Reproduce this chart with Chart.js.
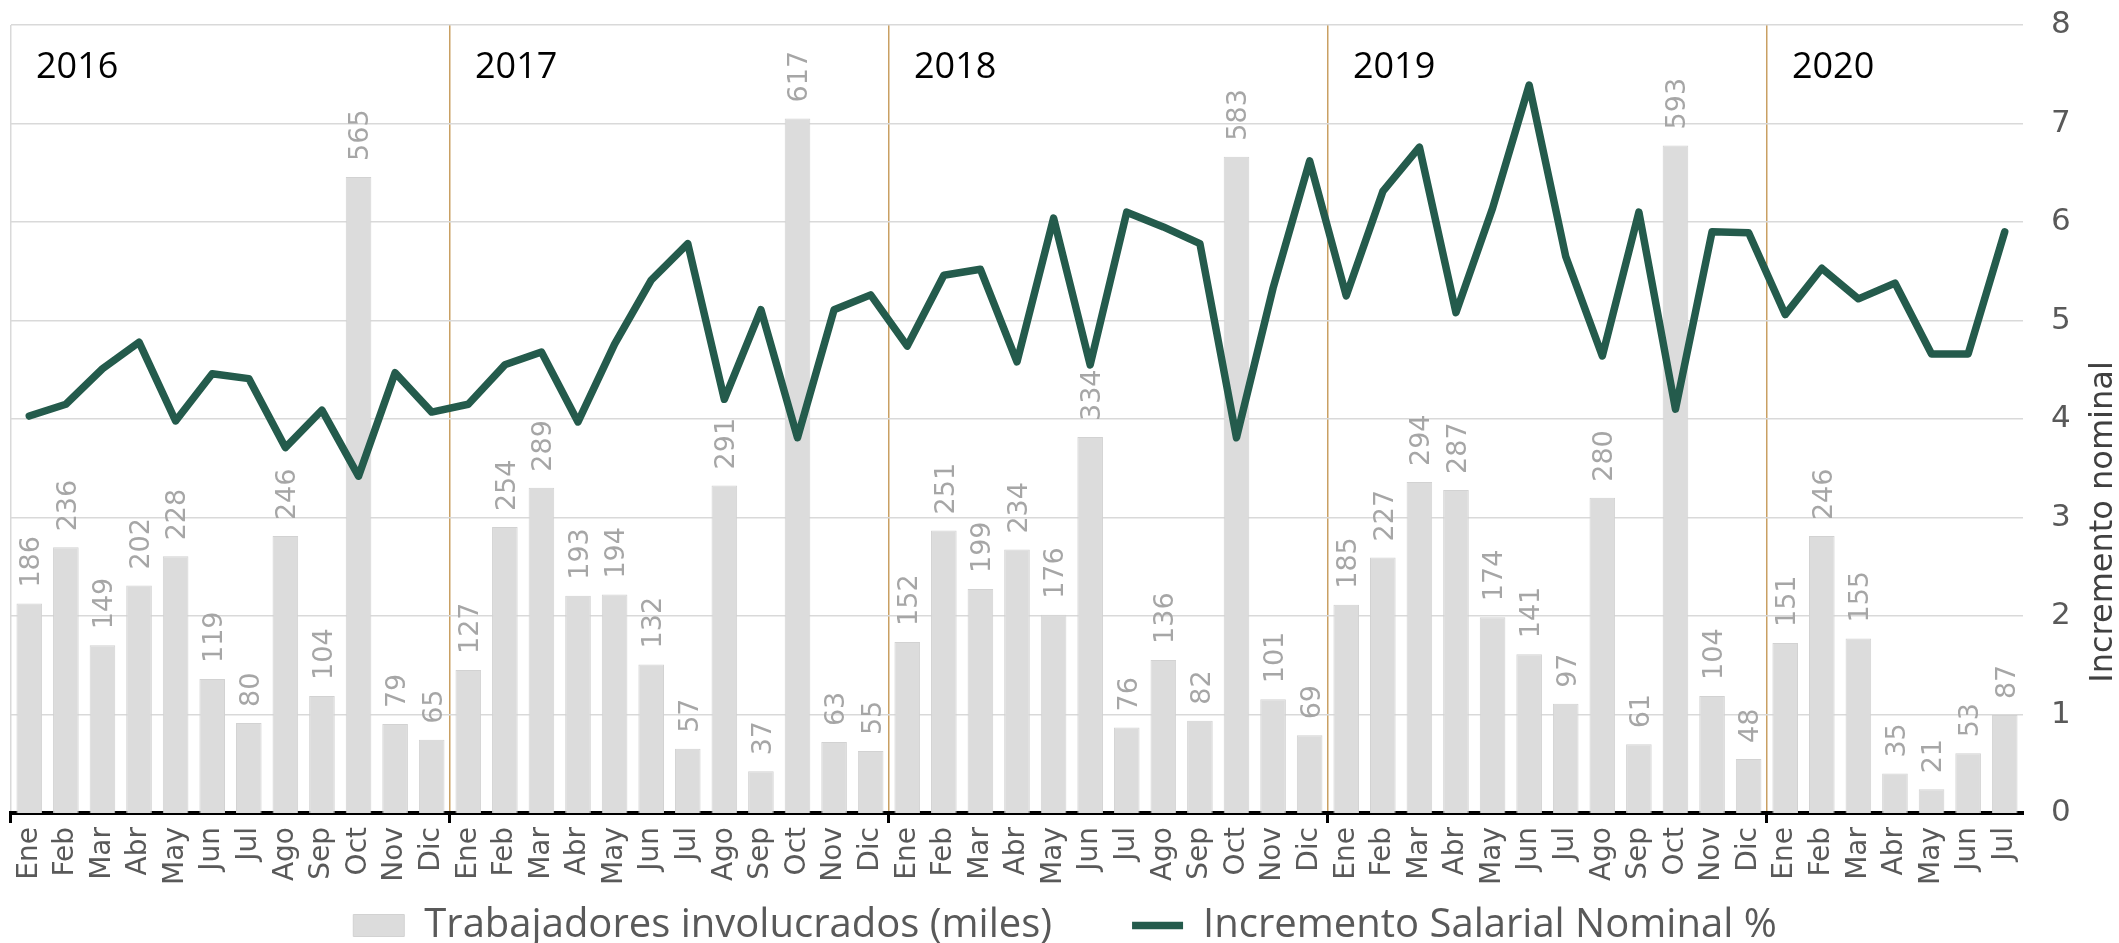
<!DOCTYPE html>
<html>
<head>
<meta charset="utf-8">
<script src="https://cdn.jsdelivr.net/npm/chart.js@4.4.1/dist/chart.umd.min.js"></script>
<style>
  html, body { margin: 0; padding: 0; background: #fff; }
  #wrap { width: 2119px; height: 943px; }
</style>
</head>
<body>
<div id="wrap"><canvas id="chart"></canvas></div>
<script>
// --- data ---
const years = ['2016', '2017', '2018', '2019', '2020'];
const months = ['Ene', 'Feb', 'Mar', 'Abr', 'May', 'Jun', 'Jul', 'Ago', 'Sep', 'Oct', 'Nov', 'Dic'];
const monthsPerYear = [12, 12, 12, 12, 7];

// Trabajadores involucrados (miles)
const workers2016 = [186, 236, 149, 202, 228, 119, 80, 246, 104, 565, 79, 65];
const workers2017 = [127, 254, 289, 193, 194, 132, 57, 291, 37, 617, 63, 55];
const workers2018 = [152, 251, 199, 234, 176, 334, 76, 136, 82, 583, 101, 69];
const workers2019 = [185, 227, 294, 287, 174, 141, 97, 280, 61, 593, 104, 48];
const workers2020 = [151, 246, 155, 35, 21, 53, 87];

// Incremento Salarial Nominal %
const salary2016 = [4.03, 4.15, 4.51, 4.78, 3.98, 4.46, 4.41, 3.71, 4.09, 3.42, 4.47, 4.07];
const salary2017 = [4.15, 4.55, 4.68, 3.97, 4.76, 5.41, 5.78, 4.20, 5.11, 3.81, 5.11, 5.26];
const salary2018 = [4.74, 5.46, 5.52, 4.58, 6.04, 4.55, 6.10, 5.95, 5.78, 3.81, 5.33, 6.62];
const salary2019 = [5.25, 6.31, 6.76, 5.08, 6.14, 7.39, 5.65, 4.64, 6.10, 4.10, 5.90, 5.89];
const salary2020 = [5.06, 5.53, 5.22, 5.38, 4.66, 4.66, 5.90];

const categories = years.flatMap((y, k) => months.slice(0, monthsPerYear[k]));
const workers = [].concat(workers2016, workers2017, workers2018, workers2019, workers2020);
const salary = [].concat(salary2016, salary2017, salary2018, salary2019, salary2020);

// index of the first month of every year
const yearStarts = monthsPerYear.map((n, k) => monthsPerYear.slice(0, k).reduce((a, b) => a + b, 0));
const isYearStart = i => yearStarts.includes(i);

const GOLD = '#c9a063';
const GRID = '#d9d9d9';
const NONE = 'rgba(0,0,0,0)';

// value labels above the bars, rotated
const barLabels = {
    id: 'barLabels',
    afterDatasetsDraw(chart) {
        const ctx = chart.ctx;
        const size = 27;
        ctx.save();
        ctx.font = size + 'px "DejaVu Sans"';
        ctx.fillStyle = '#a6a6a6';
        ctx.textAlign = 'left';
        ctx.textBaseline = 'alphabetic';
        chart.getDatasetMeta(0).data.forEach((bar, i) => {
            ctx.save();
            ctx.translate(bar.x + size * 0.365, bar.y - 16);
            ctx.rotate(-Math.PI / 2);
            ctx.fillText(String(workers[i]), 0, 0);
            ctx.restore();
        });
        ctx.restore();
    }
};

// year names in the top of each block + right axis title
const yearLabels = {
    id: 'yearLabels',
    afterDraw(chart) {
        const ctx = chart.ctx;
        const xs = chart.scales.x;
        const step = xs.getPixelForValue(1) - xs.getPixelForValue(0);
        ctx.save();
        ctx.font = '36px "Open Sans"';
        ctx.fillStyle = '#000';
        ctx.textAlign = 'left';
        ctx.textBaseline = 'alphabetic';
        yearStarts.forEach((start, k) => {
            const left = xs.getPixelForValue(start) - step / 2;
            ctx.fillText(years[k], left + 25, 78);
        });

        ctx.font = '32px "DejaVu Sans"';
        ctx.fillStyle = '#404040';
        ctx.textAlign = 'center';
        ctx.textBaseline = 'middle';
        ctx.translate(2104, 522);
        ctx.rotate(-Math.PI / 2);
        ctx.fillText('Incremento nominal', 0, 0);
        ctx.restore();
    }
};

new Chart(document.getElementById('chart'), {
    type: 'bar',
    data: {
        labels: categories,
        datasets: [
            {
                label: 'Trabajadores involucrados (miles)',
                data: workers,
                yAxisID: 'y',
                backgroundColor: '#dcdcdc',
                borderColor: '#d2d2d2',
                borderWidth: 1,
                barPercentage: 0.7,
                categoryPercentage: 1,
                order: 1
            },
            {
                type: 'line',
                label: 'Incremento Salarial Nominal %',
                data: salary,
                yAxisID: 'y1',
                borderColor: '#245b4c',
                backgroundColor: '#245b4c',
                borderWidth: 7.5,
                borderJoinStyle: 'round',
                borderCapStyle: 'round',
                pointRadius: 0,
                tension: 0,
                order: 0
            }
        ]
    },
    options: {
        responsive: true,
        maintainAspectRatio: false,
        animation: false,
        layout: { padding: { left: 11, top: 25, right: 0, bottom: -12.5 } },
        scales: {
            x: {
                offset: true,
                grid: {
                    offset: true,
                    drawOnChartArea: false,
                    tickLength: 10,
                    tickWidth: 3,
                    tickColor: c => (isYearStart(c.index) ? '#000' : NONE)
                },
                border: { color: '#000', width: 4 },
                ticks: {
                    autoSkip: false,
                    maxRotation: 90,
                    minRotation: 90,
                    padding: 4,
                    color: '#595959',
                    font: { family: 'DejaVu Sans', size: 28 }
                },
                z: 1,
                afterFit: s => { s.height = 92.5; }
            },
            // year separators (drawn under the data)
            xSep: {
                type: 'category',
                labels: categories,
                position: 'bottom',
                offset: true,
                grid: {
                    offset: true,
                    drawTicks: false,
                    lineWidth: 1.5,
                    color: c => (c.index === 0 ? GRID : (isYearStart(c.index) ? GOLD : NONE))
                },
                border: { display: false },
                ticks: { display: false },
                afterFit: s => { s.height = 0; }
            },
            y: {
                display: false,
                min: 0,
                max: 700
            },
            y1: {
                position: 'right',
                min: 0,
                max: 8,
                ticks: {
                    stepSize: 1,
                    padding: 0,
                    color: '#595959',
                    font: { family: 'DejaVu Sans', size: 31 }
                },
                // invisible tick marks give the gap between plot and labels
                grid: { color: GRID, lineWidth: 1.5, drawTicks: true, tickLength: 28, tickColor: NONE },
                border: { display: false },
                afterFit: s => { s.width = 96; }
            }
        },
        plugins: {
            tooltip: { enabled: false },
            legend: {
                position: 'bottom',
                labels: {
                    usePointStyle: true,
                    pointStyleWidth: 51,
                    boxHeight: 22,
                    padding: 0,
                    color: '#595959',
                    font: { family: 'Open Sans', size: 40 },
                    sort: (a, b) => a.datasetIndex - b.datasetIndex,
                    generateLabels(chart) {
                        const items = Chart.defaults.plugins.legend.labels.generateLabels(chart);
                        items.forEach(it => {
                            it.pointStyle = it.datasetIndex === 0 ? 'rect' : 'line';
                            if (it.datasetIndex === 0) it.text += '\u2003\u2003';
                        });
                        return items;
                    }
                }
            }
        }
    },
    plugins: [barLabels, yearLabels]
});
</script>
</body>
</html>
